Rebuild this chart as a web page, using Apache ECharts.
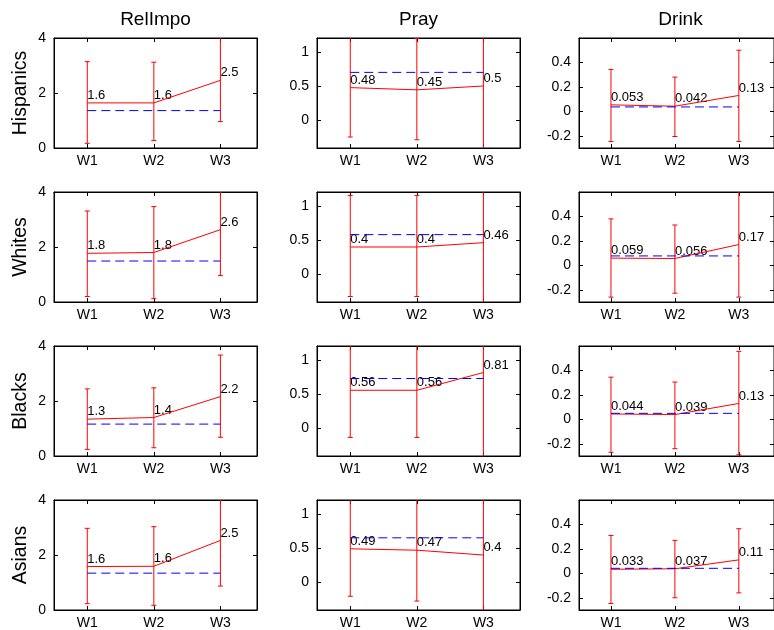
<!DOCTYPE html>
<html>
<head>
<meta charset="utf-8">
<script src="https://cdn.jsdelivr.net/npm/echarts@6/dist/echarts.min.js"></script>
<style>html,body{margin:0;padding:0;background:#fff}#c{width:774px;height:630px}</style>
</head>
<body>
<div id="c"></div>
<script>
// ---- data ----
const waves = ['W1', 'W2', 'W3'];
const groups = ['Hispanics', 'Whites', 'Blacks', 'Asians'];
const measures = ['RelImpo', 'Pray', 'Drink'];

const relImpoMean = [[1.64, 1.64, 2.46], [1.77, 1.80, 2.63], [1.34, 1.40, 2.16], [1.58, 1.59, 2.53]];
const relImpoLow  = [[0.17, 0.27, 0.96], [0.20, 0.12, 0.96], [0.24, 0.30, 0.68], [0.23, 0.17, 0.87]];
const relImpoHigh = [[3.14, 3.12, 4.20], [3.31, 3.47, 4.30], [2.44, 2.48, 3.67], [2.97, 3.03, 4.20]];
const relImpoBase = [1.36, 1.49, 1.16, 1.34];

const prayMean = [[0.478, 0.446, 0.502], [0.40, 0.40, 0.463], [0.556, 0.556, 0.814], [0.49, 0.47, 0.40]];
const prayLow  = [[-0.24, -0.28, -0.60], [-0.32, -0.32, -0.60], [-0.13, -0.13, -0.60], [-0.20, -0.27, -0.60]];
const prayHigh = [[1.30, 1.19, 1.40], [1.15, 1.15, 1.40], [1.30, 1.30, 1.40], [1.30, 1.30, 1.40]];
const prayBase = [0.70, 0.58, 0.727, 0.65];

const drinkMean = [[0.053, 0.042, 0.13], [0.059, 0.056, 0.17], [0.044, 0.039, 0.13], [0.033, 0.037, 0.11]];
const drinkLow  = [[-0.247, -0.206, -0.247], [-0.26, -0.228, -0.26], [-0.27, -0.24, -0.29], [-0.247, -0.20, -0.16]];
const drinkHigh = [[0.343, 0.28, 0.50], [0.38, 0.33, 0.70], [0.345, 0.305, 0.556], [0.31, 0.27, 0.365]];
const drinkBase = [0.036, 0.077, 0.049, 0.041];

const relImpoTicks = [0, 2, 4];
const prayTicks = [0, 0.5, 1];
const drinkTicks = [-0.2, 0, 0.2, 0.4];

// ---- layout ----
const FONT = '"Liberation Sans", Arial, sans-serif';
const colLeft = [54, 317, 579];
const colW = 203;
const rowTop = [38, 192, 346, 500];
const rowH = 110;

const panels = [
  { mean: relImpoMean, low: relImpoLow, high: relImpoHigh, base: relImpoBase, min: 0, max: 4, ticks: relImpoTicks },
  { mean: prayMean, low: prayLow, high: prayHigh, base: prayBase, min: -0.4, max: 1.2, ticks: prayTicks },
  { mean: drinkMean, low: drinkLow, high: drinkHigh, base: drinkBase, min: -0.3, max: 0.6, ticks: drinkTicks }
];

function fmt(v) { return String(parseFloat(v.toPrecision(2))); }

const grid = [], xAxis = [], yAxis = [], series = [], graphic = [];
const xTicks = waves.map((w, i) => i + 1);

groups.forEach((g, r) => {
  measures.forEach((m, c) => {
    const gi = r * 3 + c;
    const p = panels[c];
    grid.push({ left: colLeft[c], top: rowTop[r], width: colW, height: rowH, show: true,
      borderColor: '#000', borderWidth: 1, backgroundColor: '#fff', containLabel: false });
    const tickStyle = { show: true, inside: true, length: 4, lineStyle: { color: '#000', width: 1 } };
    xAxis.push({ type: 'value', gridIndex: gi, min: 0.5, max: 3.55, position: 'bottom',
      axisLine: { show: true, onZero: false, lineStyle: { color: '#000' } },
      axisTick: Object.assign({ customValues: xTicks }, tickStyle),
      axisLabel: { show: true, customValues: xTicks, margin: 6, color: '#000', fontFamily: FONT, fontSize: 14,
        formatter: v => waves[Math.round(v) - 1] },
      splitLine: { show: false } });
    xAxis.push({ type: 'value', gridIndex: gi, min: 0.5, max: 3.55, position: 'top',
      axisLine: { show: true, onZero: false, lineStyle: { color: '#000' } },
      axisTick: Object.assign({ customValues: xTicks }, tickStyle),
      axisLabel: { show: false }, splitLine: { show: false } });
    yAxis.push({ type: 'value', gridIndex: gi, min: p.min, max: p.max, position: 'left',
      axisLine: { show: true, onZero: false, lineStyle: { color: '#000' } },
      axisTick: Object.assign({ customValues: p.ticks }, tickStyle),
      axisLabel: { show: true, customValues: p.ticks, margin: 8, color: '#000', fontFamily: FONT, fontSize: 14,
        formatter: v => String(v) },
      splitLine: { show: false } });
    yAxis.push({ type: 'value', gridIndex: gi, min: p.min, max: p.max, position: 'right',
      axisLine: { show: true, onZero: false, lineStyle: { color: '#000' } },
      axisTick: Object.assign({ customValues: p.ticks }, tickStyle),
      axisLabel: { show: false }, splitLine: { show: false } });

    const xi = gi * 2, yi = gi * 2;
    series.push({ type: 'line', xAxisIndex: xi, yAxisIndex: yi, silent: true, animation: false,
      symbol: 'none', z: 2, lineStyle: { color: '#ff0000', width: 1 },
      data: waves.map((w, i) => [i + 1, p.mean[r][i]]) });
    series.push({ type: 'custom', xAxisIndex: xi, yAxisIndex: yi, silent: true, animation: false, clip: true, z: 2,
      data: waves.map((w, i) => [i + 1, p.low[r][i], p.high[r][i], p.mean[r][i]]),
      renderItem: (params, api) => {
        const x = api.value(0);
        const lo = api.coord([x, api.value(1)]);
        const hi = api.coord([x, api.value(2)]);
        const mp = api.coord([x, api.value(3)]);
        const st = { stroke: '#ff0000', lineWidth: 1 };
        const cw = 2.5;
        return { type: 'group', children: [
          { type: 'line', shape: { x1: lo[0], y1: lo[1], x2: hi[0], y2: hi[1] }, style: st },
          { type: 'line', shape: { x1: lo[0] - cw, y1: lo[1], x2: lo[0] + cw, y2: lo[1] }, style: st },
          { type: 'line', shape: { x1: hi[0] - cw, y1: hi[1], x2: hi[0] + cw, y2: hi[1] }, style: st },
          { type: 'text', x: mp[0], y: mp[1] - 1, style: { text: fmt(api.value(3)), fill: '#000',
            font: '13px ' + FONT, align: 'left', verticalAlign: 'bottom' } }
        ] };
      } });
    series.push({ type: 'line', xAxisIndex: xi, yAxisIndex: yi, silent: true, animation: false,
      symbol: 'none', z: 3, lineStyle: { color: '#0000ff', width: 1, type: [9, 5] },
      data: [[1, p.base[r]], [3, p.base[r]]] });
  });
});

measures.forEach((m, c) => {
  graphic.push({ type: 'text', x: colLeft[c] + colW / 2, y: 20,
    style: { text: m, fill: '#000', font: '19px ' + FONT, align: 'center', verticalAlign: 'middle' } });
});
groups.forEach((g, r) => {
  graphic.push({ type: 'text', x: 21, y: rowTop[r] + rowH / 2, rotation: Math.PI / 2,
    style: { text: g, fill: '#000', font: '19.5px ' + FONT, align: 'center', verticalAlign: 'middle' } });
});

const chart = echarts.init(document.getElementById('c'), null, { renderer: 'canvas' });
chart.setOption({ backgroundColor: '#fff', animation: false, grid, xAxis, yAxis, series, graphic });
</script>
</body>
</html>
